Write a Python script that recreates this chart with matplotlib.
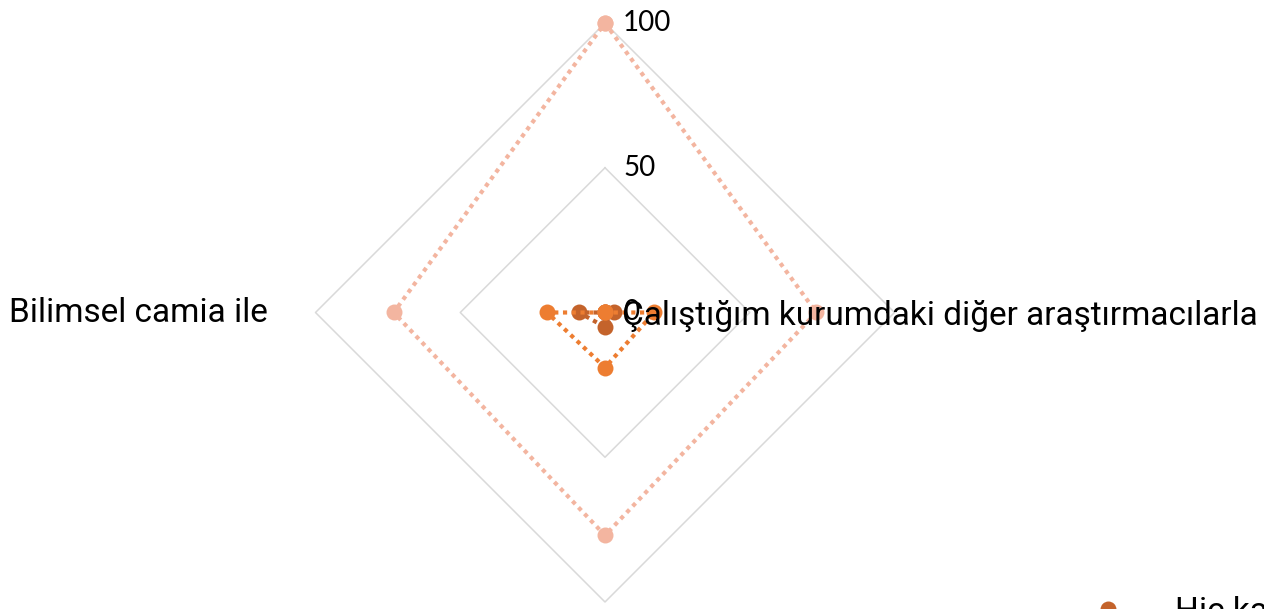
import matplotlib
matplotlib.use("Agg")

import matplotlib.pyplot as plt
from matplotlib.lines import Line2D
import numpy as np

# categories clockwise from the top
categories = ["Bilim insanlarıyla", "Çalıştığım kurumdaki diğer araştırmacılarla",
              "Kamuoyu ile", "Bilimsel camia ile"]
series_names = ["Hiç katılmıyorum", "Katılmıyorum", "Katılıyorum"]
dark_vals = [0, 3, 5, 9]
mid_vals = [0, 17, 19, 20]
light_vals = [100, 73, 77, 73]
ring_levels = [50, 100]
tick_labels = ["0", "50", "100"]

colors = ["#C4632B", "#ED7D31", "#F3B5A0"]

W, H = 1264, 609
cx, cy, rad = 605, 312.5, 289.5

fig = plt.figure(figsize=(W / 100, H / 100), dpi=100)
ax = fig.add_axes([(cx - rad) / W, (H - cy - rad) / H, 2 * rad / W, 2 * rad / H],
                  projection="polar")
ax.set_theta_zero_location("N")
ax.set_theta_direction(-1)
ax.set_ylim(0, 100)
ax.grid(False)
ax.spines["polar"].set_visible(False)
ax.set_xticks([])
ax.set_yticks([])
ax.patch.set_alpha(0)

theta = np.arange(len(categories)) * 2 * np.pi / len(categories)
theta_closed = np.append(theta, theta[0])

# diamond gridlines
for lvl in ring_levels:
    ax.plot(theta_closed, [lvl] * len(theta_closed), color="#D9D9D9", lw=1.1,
            zorder=1, clip_on=False)

# tick labels along the top spoke
for t in tick_labels:
    ax.annotate(t, xy=(0, float(t)), xytext=(18, 0), textcoords="offset pixels",
                ha="left", va="center", fontsize=20, family="Lato", color="black",
                zorder=6, annotation_clip=False)

# series drawn in order, later ones on top
for i, (vals, c) in enumerate(zip([dark_vals, mid_vals, light_vals], colors)):
    v = np.append(vals, vals[0])
    ax.plot(theta_closed, v, color=c, lw=3, linestyle=(0, (1, 1.1)),
            marker="o", markersize=11.5, markeredgewidth=0, zorder=3 + i, clip_on=False)

# category labels (top and bottom fall outside the canvas, like the original)
lab_font = dict(fontsize=24, family="Roboto", color="black")
ax.annotate(categories[3], xy=(theta[3], 100), xytext=(-48, 0), textcoords="offset pixels",
            ha="right", va="center", annotation_clip=False, zorder=8, **lab_font)
fig.text(1258 / W, 1 - 316 / H, categories[1], ha="right", va="center", zorder=8, **lab_font)

# legend, cut off at the bottom right
handles = [Line2D([], [], color=c, marker="o", markersize=11.5, markeredgewidth=0, lw=0)
           for c in colors]
fig.legend(handles, series_names, loc="center left", bbox_to_anchor=(1045 / W, 1 - 612 / H),
           ncol=3, frameon=False, prop={"family": "Roboto", "size": 24},
           borderpad=0.4, handletextpad=1.0, columnspacing=2)

fig.savefig("out.png", dpi=100)
